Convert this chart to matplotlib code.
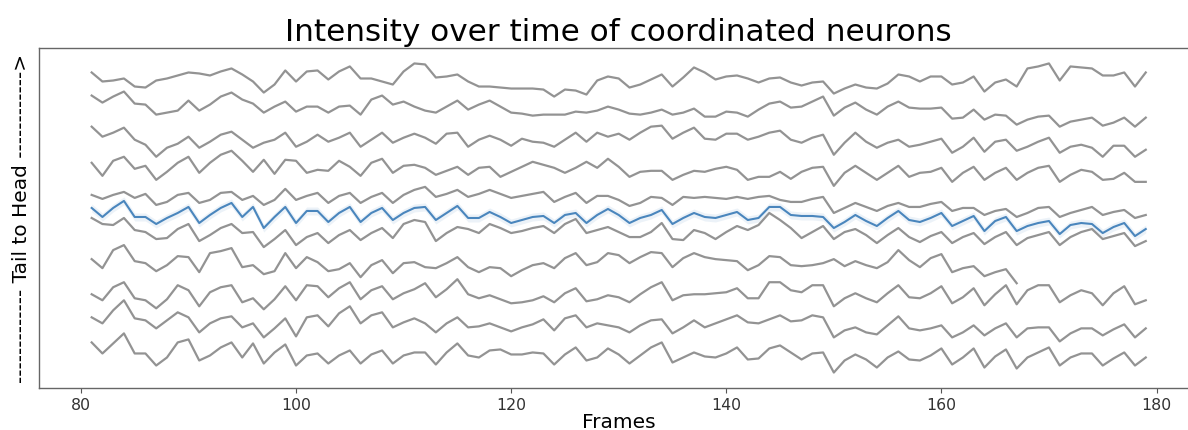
import numpy as np
import matplotlib
matplotlib.use("Agg")
import matplotlib.pyplot as plt

# Frame indices
frames = np.arange(81, 180)

# Stacked intensity traces, ordered head (top) to tail (bottom)
neuron_01 = [327, 318, 319, 321, 313, 312, 319, 321, 324, 327, 326, 324, 328, 331, 325, 318, 307, 315, 329, 318, 328, 329, 320, 328, 333, 321, 321, 318, 315,
             328, 336, 335, 322, 323, 325, 318, 313, 313, 312, 311, 311, 311, 310, 303, 310, 309, 305, 319, 323, 321, 312, 315, 320, 325, 313, 322, 332, 327, 320, 323, 324, 321, 317, 321, 322, 317,
             314, 317, 318, 306, 311, 315, 312, 311, 316, 325, 323, 318, 323, 323, 315, 317, 323, 308, 317, 320, 313, 331, 333, 336, 319, 333, 332, 331, 324, 324, 327, 313, 327]
neuron_02 = [304, 297, 303, 308, 296, 295, 285, 287, 289, 299, 289, 295, 303, 307, 300, 296, 287, 293, 298, 288, 293, 293, 287, 293, 294, 285, 300, 304, 295,
             298, 293, 289, 287, 293, 299, 290, 295, 299, 293, 287, 286, 284, 285, 285, 285, 288, 287, 289, 293, 290, 286, 285, 287, 290, 285, 287, 291, 283, 283, 288, 287, 283, 290, 296, 298, 292,
             293, 298, 303, 284, 292, 297, 290, 285, 293, 298, 292, 291, 291, 292, 281, 282, 290, 280, 285, 284, 275, 280, 283, 284, 273, 278, 280, 282, 274, 277, 282, 273, 282]
neuron_03 = [273, 263, 267, 272, 260, 255, 243, 252, 256, 263, 252, 258, 265, 268, 260, 252, 257, 260, 267, 253, 258, 265, 258, 262, 267, 253, 260, 267, 257,
             262, 266, 262, 256, 266, 267, 253, 260, 264, 260, 254, 261, 258, 257, 253, 260, 267, 258, 267, 263, 266, 260, 267, 273, 274, 261, 267, 272, 261, 260, 266, 266, 260, 263, 267, 269, 260,
             257, 262, 265, 245, 257, 267, 258, 252, 257, 260, 253, 255, 258, 261, 247, 253, 262, 248, 258, 260, 249, 253, 258, 262, 247, 253, 255, 252, 243, 254, 254, 243, 250]
neuron_04 = [237, 224, 239, 243, 231, 234, 220, 228, 237, 243, 227, 237, 245, 249, 239, 228, 240, 226, 240, 239, 227, 230, 229, 239, 233, 224, 237, 241, 227,
             234, 235, 232, 225, 229, 233, 225, 232, 233, 223, 228, 233, 238, 235, 232, 227, 232, 238, 232, 241, 233, 223, 228, 229, 229, 220, 225, 229, 228, 231, 233, 230, 220, 223, 223, 228, 221,
             228, 232, 233, 214, 227, 234, 227, 220, 227, 234, 223, 227, 228, 232, 218, 227, 233, 220, 227, 232, 220, 227, 232, 234, 218, 225, 230, 228, 220, 221, 227, 218, 218]
neuron_05 = [205, 201, 205, 208, 202, 206, 195, 198, 205, 207, 197, 200, 207, 208, 200, 204, 195, 200, 211, 200, 204, 207, 197, 204, 207, 197, 203, 207, 197,
             205, 210, 213, 203, 206, 210, 203, 206, 210, 206, 202, 204, 206, 208, 198, 203, 207, 197, 204, 204, 200, 194, 197, 203, 202, 195, 203, 202, 203, 202, 201, 203, 201, 203, 204, 200, 198,
             198, 201, 203, 187, 192, 197, 193, 189, 194, 197, 193, 193, 196, 198, 189, 192, 192, 185, 189, 191, 183, 187, 192, 193, 183, 187, 190, 193, 185, 188, 190, 182, 185]
highlighted = [192, 183, 192, 199, 183, 183, 176, 182, 187, 193, 177, 185, 192, 197, 183, 193, 172, 183, 193, 177, 189, 189, 178, 187, 193, 178, 187, 192, 180,
               187, 192, 193, 180, 187, 194, 182, 182, 188, 183, 177, 180, 183, 184, 177, 185, 187, 177, 185, 191, 185, 177, 182, 185, 190, 176, 182, 187, 183, 182, 185, 188, 180, 182, 193, 193, 185,
               184, 184, 183, 172, 178, 185, 179, 174, 182, 189, 180, 178, 182, 187, 174, 179, 184, 169, 179, 183, 169, 174, 177, 179, 166, 175, 177, 176, 167, 173, 177, 164, 171]
neuron_06 = [182, 176, 175, 182, 170, 168, 161, 162, 171, 176, 159, 165, 172, 176, 167, 168, 153, 161, 170, 155, 163, 167, 157, 165, 170, 160, 167, 172, 162,
             176, 180, 178, 159, 167, 173, 171, 167, 176, 172, 167, 169, 172, 174, 167, 176, 181, 167, 170, 173, 168, 163, 163, 168, 177, 161, 160, 170, 167, 161, 168, 174, 170, 175, 187, 180, 172,
             162, 168, 174, 161, 168, 171, 165, 157, 165, 172, 163, 158, 164, 168, 157, 163, 167, 156, 163, 168, 155, 162, 165, 168, 155, 163, 168, 171, 161, 164, 167, 154, 159]
neuron_07 = [141, 132, 150, 155, 139, 137, 129, 135, 144, 143, 128, 147, 149, 152, 133, 135, 126, 129, 147, 132, 143, 138, 129, 131, 137, 123, 135, 140, 127,
             137, 138, 133, 132, 137, 143, 133, 128, 133, 132, 124, 130, 135, 137, 132, 142, 147, 135, 138, 147, 145, 137, 143, 148, 147, 133, 142, 147, 143, 141, 140, 139, 130, 135, 144, 143, 135,
             134, 135, 137, 141, 134, 139, 135, 132, 138, 150, 140, 133, 142, 146, 128, 132, 134, 124, 128, 131, 117]
neuron_08 = [106, 100, 113, 118, 102, 100, 92, 101, 115, 110, 94, 108, 113, 115, 98, 102, 91, 101, 114, 100, 115, 114, 103, 112, 118, 101, 110, 114, 101,
             107, 111, 117, 103, 111, 121, 106, 102, 105, 101, 97, 98, 100, 104, 98, 107, 112, 99, 101, 105, 103, 98, 106, 113, 118, 100, 105, 106, 106, 107, 108, 112, 102, 102, 118, 118, 110,
             108, 115, 115, 94, 102, 107, 102, 98, 107, 115, 103, 102, 107, 114, 97, 103, 112, 95, 106, 115, 96, 110, 115, 115, 98, 105, 110, 107, 95, 107, 114, 96, 100]
neuron_09 = [83, 77, 90, 100, 82, 80, 72, 80, 88, 83, 68, 77, 82, 84, 73, 77, 63, 72, 82, 64, 83, 85, 74, 87, 94, 77, 85, 88, 73,
             78, 82, 77, 68, 77, 83, 73, 74, 77, 73, 69, 73, 76, 81, 70, 82, 85, 73, 77, 75, 73, 68, 75, 80, 81, 67, 73, 80, 73, 77, 81, 85, 78, 77, 81, 85, 79,
             80, 85, 83, 63, 70, 73, 68, 66, 75, 84, 72, 70, 72, 75, 63, 68, 75, 65, 72, 77, 63, 72, 73, 73, 59, 67, 72, 72, 65, 71, 76, 63, 72]
neuron_10 = [58, 47, 57, 67, 47, 47, 35, 43, 58, 61, 40, 45, 53, 58, 43, 57, 37, 48, 56, 35, 45, 47, 37, 45, 50, 37, 46, 50, 37,
             45, 48, 48, 36, 48, 57, 45, 43, 50, 51, 46, 46, 48, 47, 36, 46, 53, 40, 43, 52, 46, 37, 45, 53, 58, 38, 43, 48, 44, 43, 47, 53, 41, 42, 52, 55, 48,
             41, 47, 48, 28, 40, 46, 41, 33, 43, 49, 41, 40, 45, 52, 36, 43, 52, 33, 44, 51, 32, 43, 48, 53, 35, 43, 47, 47, 35, 42, 48, 35, 43]

upper_traces = [neuron_01, neuron_02, neuron_03, neuron_04, neuron_05]
lower_traces = [neuron_06, neuron_07, neuron_08, neuron_09, neuron_10]

TITLE = "Intensity over time of coordinated neurons"
XLABEL = "Frames"
YLABEL = "------------- Tail to Head ------------>"
XTICKS = [80, 100, 120, 140, 160, 180]

GRAY = "#939393"
BLUE = "#4a86bd"

fig = plt.figure(figsize=(11.88, 4.30), dpi=100)
ax = fig.add_axes([0.0328, 0.0977, 0.976, 0.7907])


def padded(values):
    arr = np.full(len(frames), np.nan)
    arr[:len(values)] = values
    return arr


for trace in upper_traces + lower_traces:
    ax.plot(frames, padded(trace), color=GRAY, lw=1.6)

hl = np.asarray(highlighted, dtype=float)
ax.fill_between(frames, hl - 4, hl + 4, color=BLUE, alpha=0.10, lw=0)
ax.plot(frames, hl, color=BLUE, lw=1.5)

ax.set_title(TITLE, fontsize=22.4, pad=5)
ax.set_xlabel(XLABEL, fontsize=14.5, labelpad=0)
ax.set_ylabel(YLABEL, fontsize=14.5)
ax.yaxis.set_label_coords(-0.007, 0.5)
ax.set_xticks(XTICKS)
ax.tick_params(axis="x", labelsize=11.3, length=3.5, color="#555555",
               labelcolor="#333333", pad=4)
ax.set_yticks([])
for side in ("left", "bottom", "top"):
    ax.spines[side].set_color("#666666")
    ax.spines[side].set_linewidth(1.0)
ax.spines["right"].set_visible(False)

fig.savefig("out.png", dpi=100)
